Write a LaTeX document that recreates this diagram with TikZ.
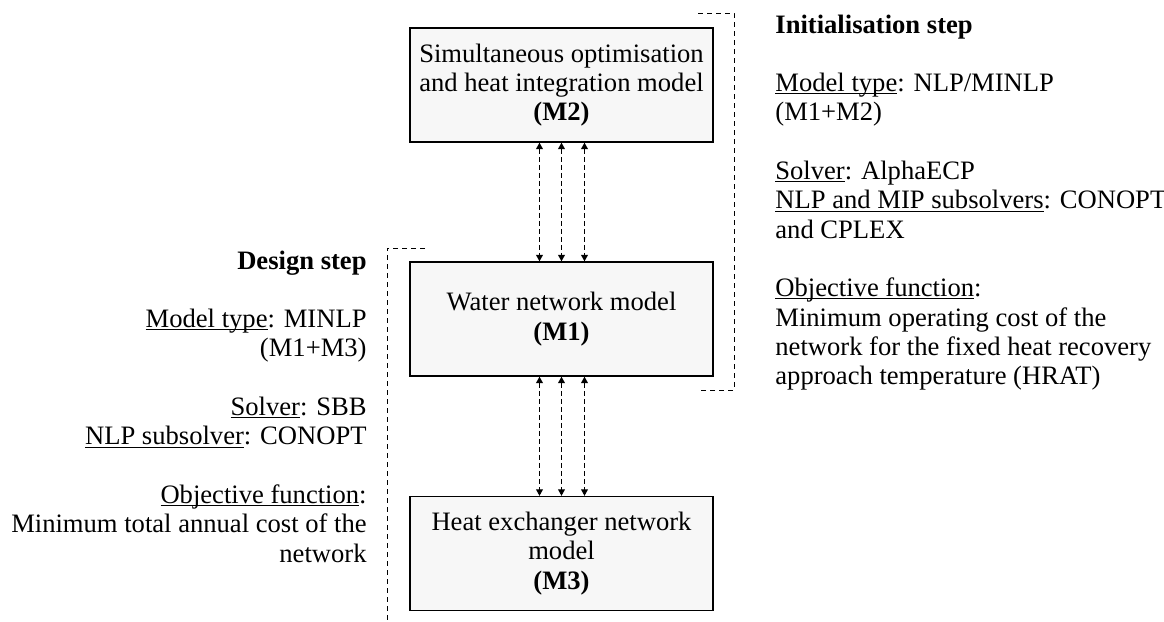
\documentclass[tikz,border=0pt]{standalone}
\usepackage{fontspec}
\setmainfont{Liberation Serif}
\usepackage{tikz}
\usetikzlibrary{arrows.meta}
\definecolor{boxfill}{RGB}{247,247,247}
\newsavebox{\ulbox}
\newcommand{\ulbl}[1]{\sbox{\ulbox}{#1}\rlap{\rule[-1.3pt]{\wd\ulbox}{0.45pt}}\usebox{\ulbox}}

\begin{document}
\begin{tikzpicture}[x=0.5pt, y=-0.5pt,
    every node/.style={font=\fontsize{13.3}{14.65}\selectfont},
    model/.style={draw, line width=0.7pt, fill=boxfill, align=center,
        minimum width=151.5pt, minimum height=57pt, inner sep=0pt},
    link/.style={dash pattern=on 2.5pt off 1.5pt, line width=0.5pt,
        {Triangle[length=3.2pt,width=3.4pt]}-{Triangle[length=3.2pt,width=3.4pt]}},
    stepline/.style={dash pattern=on 2.5pt off 2pt, line width=0.5pt}]
    \useasboundingbox (0,0) rectangle (1164,622);
    \node(M2)[model] at (561.5, 85) {Simultaneous optimisation\\and heat integration model\\\textbf{(M2)}};
    \node(M1)[model] at (561.5, 319) {Water network model\\\textbf{(M1)}};
    \node(M3)[model] at (561.5, 553.5) {Heat exchanger network\\model\\\textbf{(M3)}};
    \foreach \dx in {-22, 0, 23} {
        \draw[link] ([xshift=\dx*0.5pt]M2.south) -- ([xshift=\dx*0.5pt]M1.north);
        \draw[link] ([xshift=\dx*0.5pt]M1.south) -- ([xshift=\dx*0.5pt]M3.north);
    }
    % initialisation step (base = last line)
    \draw[stepline] (698, 13) -- (734, 13) -- (734, 390) -- (698, 390);
    \node(init)[anchor=base west, align=left, inner sep=0pt] at (775, 384.6) {\textbf{Initialisation step}\\[14.65pt]
        \ulbl{Model type}: NLP/MINLP\\(M1+M2)\\[14.65pt]
        \ulbl{Solver}: AlphaECP\\\ulbl{NLP and MIP subsolvers}: CONOPT\\and CPLEX\\[14.65pt]
        \ulbl{Objective function}:\\Minimum operating cost of the\\network for the fixed heat recovery\\approach temperature (HRAT)};
    % design step
    \draw[stepline] (425, 248) -- (387, 248) -- (387, 622);
    \node(design)[anchor=base east, align=right, inner sep=0pt] at (367, 562) {\textbf{Design step}\\[14.65pt]
        \ulbl{Model type}: MINLP\\(M1+M3)\\[14.65pt]
        \ulbl{Solver}: SBB\\\ulbl{NLP subsolver}: CONOPT\\[14.65pt]
        \ulbl{Objective function}:\\Minimum total annual cost of the\\network};
\end{tikzpicture}
\end{document}
